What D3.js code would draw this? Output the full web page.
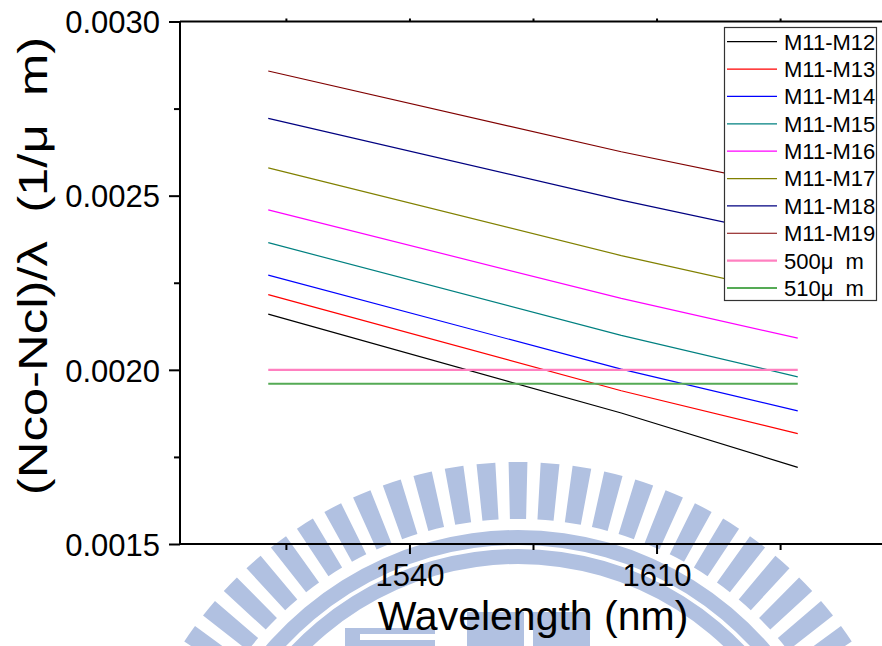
<!DOCTYPE html>
<html>
<head>
<meta charset="utf-8">
<script src="https://cdn.jsdelivr.net/npm/d3@7"></script>
<style>
  html, body { margin: 0; padding: 0; background: #fff; }
  svg { display: block; font-family: "Liberation Sans", Arial, sans-serif; }
</style>
</head>
<body>
<svg id="chart" width="882" height="646"></svg>
<script>
// Wavelengths (nm) at which each grating pair was evaluated
const wavelengths = [1500, 1600, 1650];

// (Nco - Ncl)/λ in 1/μm for each mode pair
const seriesNames = ["M11-M12", "M11-M13", "M11-M14", "M11-M15", "M11-M16",
                     "M11-M17", "M11-M18", "M11-M19", "500μ  m", "510μ  m"];
const m11m12 = [0.002160, 0.001876, 0.001720];
const m11m13 = [0.002216, 0.001940, 0.001817];
const m11m14 = [0.002272, 0.002002, 0.001882];
const m11m15 = [0.002365, 0.002099, 0.001980];
const m11m16 = [0.002459, 0.002205, 0.002091];
const m11m17 = [0.002580, 0.002328, 0.002215];
const m11m18 = [0.002722, 0.002487, 0.002379];
const m11m19 = [0.002858, 0.002626, 0.002522];
// grating period references (1/Λ)
const period500 = [0.002000, 0.002000, 0.002000];
const period510 = [0.00196, 0.00196, 0.00196];

const seriesColors = ["#000000", "#ff0000", "#0000ff", "#008080", "#ff00ff",
                      "#808000", "#000080", "#800000", "#ff80c0", "#55aa55"];
const seriesWidths = [1.2, 1.2, 1.2, 1.2, 1.2, 1.2, 1.2, 1.2, 2.2, 1.8];

const xTicks = [1540, 1610];
const xMinorTicks = [1505, 1575, 1645];
const yTicks = [0.0015, 0.0020, 0.0025, 0.0030];
const yMinorTicks = [0.00175, 0.00225, 0.00275];

const allSeries = [m11m12, m11m13, m11m14, m11m15, m11m16, m11m17, m11m18, m11m19,
                   period500, period510];

const svg = d3.select("#chart");
const W = 882, H = 646;
const plot = { left: 180, top: 21.5, right: 886, bottom: 544 };

const x = d3.scaleLinear().domain([1475, 1675]).range([plot.left, plot.right]);
const y = d3.scaleLinear().domain([0.0015, 0.0030]).range([plot.bottom, plot.top]);

// ---- faint campus emblem behind the plot ----
const emblem = svg.append("g").attr("fill", "#b1c1e1");
const ec = { cx: 518, cy: 862 };
const rad = Math.PI / 180;
const teeth = d3.range(-55.2, 55.3, 4.6);
emblem.selectAll("path.tooth").data(teeth).join("path")
  .attr("class", "tooth")
  .attr("transform", `translate(${ec.cx},${ec.cy})`)
  .attr("d", a => d3.arc()({ innerRadius: 343, outerRadius: 400,
       startAngle: (a - 1.35) * rad, endAngle: (a + 1.35) * rad }));
emblem.append("path")
  .attr("transform", `translate(${ec.cx},${ec.cy})`)
  .attr("d", d3.arc()({ innerRadius: 298, outerRadius: 332,
       startAngle: -64 * rad, endAngle: 64 * rad }));
emblem.append("path")
  .attr("transform", `translate(${ec.cx},${ec.cy})`)
  .attr("fill", "#fff")
  .attr("d", d3.arc()({ innerRadius: 313, outerRadius: 317,
       startAngle: -64 * rad, endAngle: 64 * rad }));
emblem.append("rect").attr("x", 345).attr("y", 628).attr("width", 90).attr("height", 18);
emblem.append("rect").attr("x", 360).attr("y", 634).attr("width", 75).attr("height", 6).attr("fill", "#fff");
emblem.append("rect").attr("x", 467).attr("y", 612).attr("width", 57).attr("height", 34);
emblem.append("rect").attr("x", 533).attr("y", 612).attr("width", 57).attr("height", 34);

// ---- data lines ----
const line = d3.line()
  .x((d, i) => x(wavelengths[i]))
  .y(d => y(d));

svg.append("g").selectAll("path").data(allSeries).join("path")
  .attr("d", line)
  .attr("fill", "none")
  .attr("stroke", (d, i) => seriesColors[i])
  .attr("stroke-width", (d, i) => seriesWidths[i]);

// ---- axes ----
const axisG = svg.append("g").attr("stroke", "#000").attr("stroke-width", 2);
axisG.append("line").attr("x1", plot.left).attr("x2", W).attr("y1", plot.bottom).attr("y2", plot.bottom);
axisG.append("line").attr("x1", plot.left).attr("x2", W).attr("y1", plot.top).attr("y2", plot.top);
axisG.append("line").attr("x1", plot.left).attr("x2", plot.left).attr("y1", plot.top).attr("y2", plot.bottom + 1);

const xAxis = svg.append("g")
  .attr("transform", `translate(0,${plot.bottom})`)
  .call(d3.axisBottom(x).tickValues(xTicks).tickSize(10).tickPadding(10).tickFormat(d3.format("d")));
svg.append("g")
  .attr("transform", `translate(0,${plot.bottom})`)
  .call(d3.axisBottom(x).tickValues(xMinorTicks).tickSize(6).tickFormat(""));
// small ticks along the top frame
svg.append("g")
  .attr("transform", `translate(0,${plot.top})`)
  .call(d3.axisTop(x).tickValues(xTicks.concat(xMinorTicks)).tickSize(3).tickFormat(""));

const yAxis = svg.append("g")
  .attr("transform", `translate(${plot.left},0)`)
  .call(d3.axisLeft(y).tickValues(yTicks).tickSize(11).tickPadding(9).tickFormat(d3.format(".4f")));
svg.append("g")
  .attr("transform", `translate(${plot.left},0)`)
  .call(d3.axisLeft(y).tickValues(yMinorTicks).tickSize(6).tickFormat(""));

svg.selectAll(".domain").remove();
svg.selectAll(".tick line").attr("stroke", "#000").attr("stroke-width", 2);
xAxis.selectAll(".tick text").attr("font-size", 31).attr("fill", "#000");
yAxis.selectAll(".tick text").attr("font-size", 31).attr("fill", "#000").attr("dy", "0.36em");

// axis titles
svg.append("text")
  .attr("x", 533).attr("y", 630)
  .attr("text-anchor", "middle")
  .attr("font-size", 41)
  .text("Wavelength (nm)");
svg.append("text")
  .attr("transform", "translate(47,266) rotate(-90) scale(1.24,1)")
  .attr("text-anchor", "middle")
  .attr("font-size", 41)
  .style("white-space", "pre")
  .text("(Nco-Ncl)/λ  (1/μ  m)");

// ---- legend ----
const lg = svg.append("g");
lg.append("rect")
  .attr("x", 724.5).attr("y", 27.5).attr("width", 152).attr("height", 273)
  .attr("fill", "#fff").attr("stroke", "#333").attr("stroke-width", 1.2);
const rowY = d3.scaleLinear().domain([0, 9]).range([41.7, 288]);
const rows = lg.selectAll("g.row").data(seriesNames).join("g")
  .attr("class", "row")
  .attr("transform", (d, i) => `translate(0,${rowY(i)})`);
rows.append("line")
  .attr("x1", 727).attr("x2", 777)
  .attr("stroke", (d, i) => seriesColors[i])
  .attr("stroke-width", (d, i) => seriesWidths[i]);
rows.append("text")
  .attr("x", 784).attr("dy", "0.36em")
  .attr("font-size", 22)
  .style("white-space", "pre")
  .text(d => d);
</script>
</body>
</html>
